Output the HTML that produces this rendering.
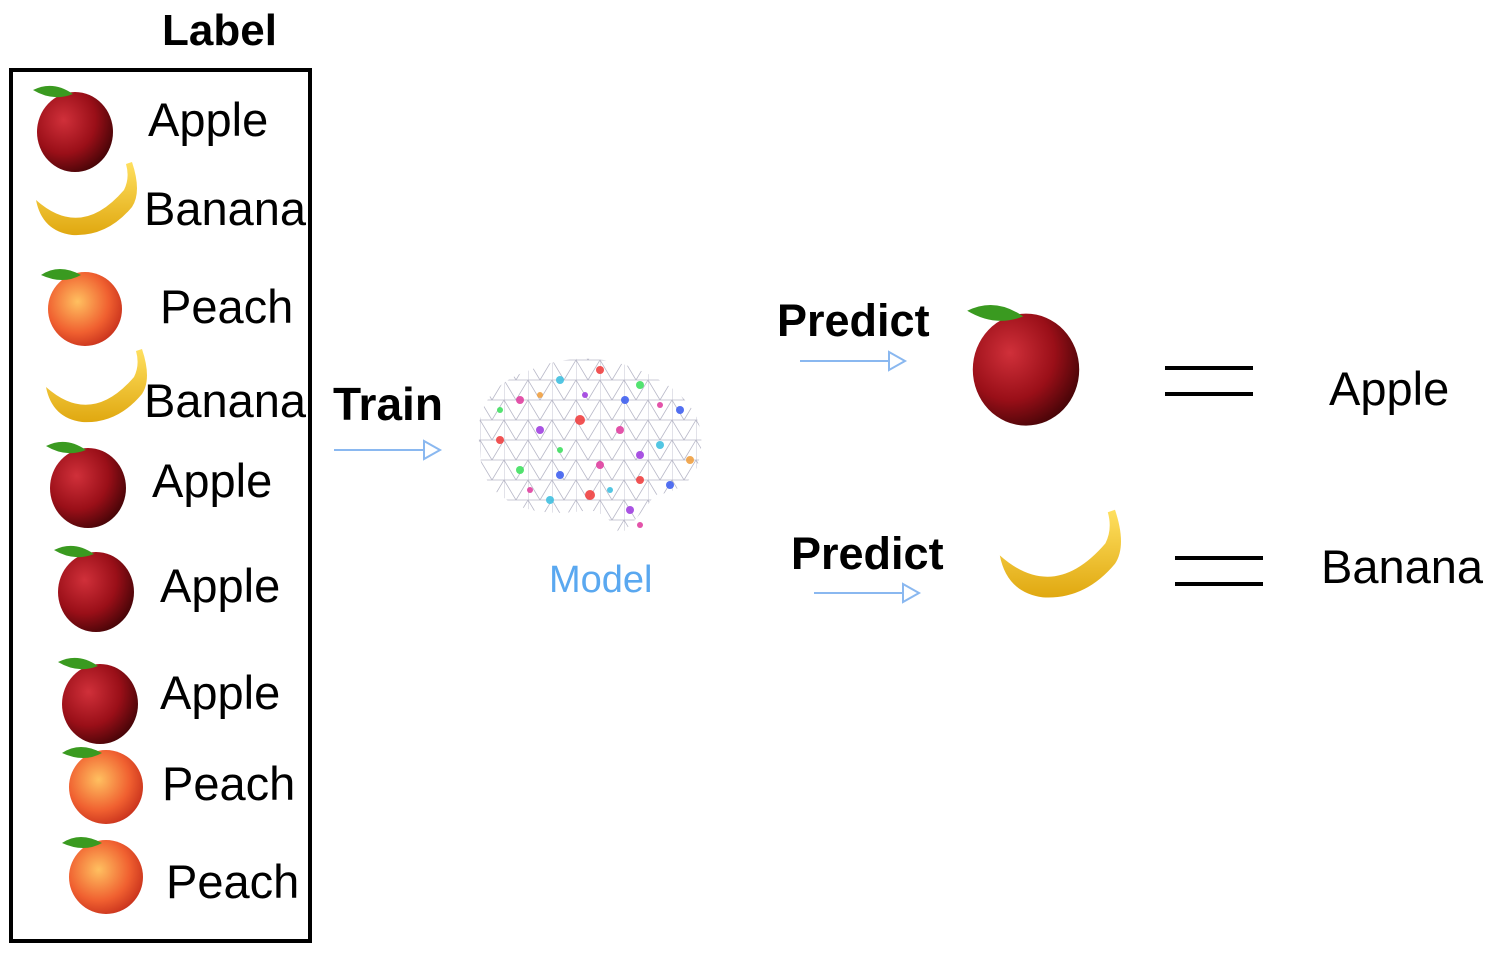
<!DOCTYPE html>
<html><head><meta charset="utf-8"><style>
html,body{margin:0;padding:0;background:#fff;}
body{width:1506px;height:956px;position:relative;overflow:hidden;font-family:"Liberation Sans",sans-serif;}
.t{position:absolute;font-size:47px;color:#000;white-space:nowrap;line-height:1;}
.b{font-weight:bold;}
svg{position:absolute;left:0;top:0;}
</style></head><body>
<svg width="1506" height="956" viewBox="0 0 1506 956">
<defs>
<radialGradient id="ap" cx="0.35" cy="0.35" r="0.7"><stop offset="0" stop-color="#d0303a"/><stop offset="0.6" stop-color="#9a0f18"/><stop offset="1" stop-color="#4a0508"/></radialGradient>
<radialGradient id="pe" cx="0.4" cy="0.4" r="0.7"><stop offset="0" stop-color="#ffc060"/><stop offset="0.6" stop-color="#f06030"/><stop offset="1" stop-color="#c02818"/></radialGradient>
<linearGradient id="ba" x1="0" y1="0" x2="0" y2="1"><stop offset="0" stop-color="#ffe060"/><stop offset="1" stop-color="#e0a810"/></linearGradient>
<g id="apple"><ellipse cx="0" cy="4" rx="38" ry="40" fill="url(#ap)"/><path d="M-2,-34 q-20,-14 -40,-4 q20,12 40,4z" fill="#3a9a20"/></g>
<g id="peach"><circle cx="0" cy="4" r="37" fill="url(#pe)"/><path d="M-4,-30 q-22,-12 -40,0 q22,10 40,0z" fill="#3a9a20"/></g>
<g id="banana"><path d="M-46,-8 q45,40 88,-10 q6,-12 2,-26 l6,-2 q10,30 0,45 q-25,30 -60,28 q-30,-4 -36,-35z" fill="url(#ba)"/></g>
<pattern id="mesh" width="24" height="20" patternUnits="userSpaceOnUse"><path d="M0,0 L24,0 L12,20 Z M0,20 L24,20 M0,0 L0,20" fill="none" stroke="#b8b8c8" stroke-width="0.8"/></pattern>
<clipPath id="bc"><path d="M480,450 q-10,-60 50,-80 q60,-25 120,5 q60,30 50,80 q-5,35 -45,40 q-15,20 -25,30 l-10,10 q-10,-20 -30,-25 q-60,10 -90,-15 q-20,-15 -20,-45z"/></clipPath>
</defs>
<rect x="11" y="70" width="299" height="871" fill="none" stroke="#000" stroke-width="4"/>
<use href="#apple" x="75" y="128"/>
<use href="#banana" x="82" y="208"/>
<use href="#peach" x="85" y="305"/>
<use href="#banana" x="92" y="395"/>
<use href="#apple" x="88" y="484"/>
<use href="#apple" x="96" y="588"/>
<use href="#apple" x="100" y="700"/>
<use href="#peach" x="106" y="783"/>
<use href="#peach" x="106" y="873"/>
<g transform="translate(1026 364) scale(1.4)"><use href="#apple"/></g>
<g transform="translate(1055 565) scale(1.2)"><use href="#banana"/></g>
<g stroke="#8ab8f0" stroke-width="2" fill="none">
<line x1="334" y1="450" x2="440" y2="450"/><path d="M424,441 l16,9 l-16,9z" fill="#fff"/>
<line x1="800" y1="361" x2="905" y2="361"/><path d="M889,352 l16,9 l-16,9z" fill="#fff"/>
<line x1="814" y1="593" x2="919" y2="593"/><path d="M903,584 l16,9 l-16,9z" fill="#fff"/>
</g>
<g stroke="#000" stroke-width="4">
<line x1="1165" y1="368" x2="1253" y2="368"/><line x1="1165" y1="394" x2="1253" y2="394"/>
<line x1="1175" y1="558" x2="1263" y2="558"/><line x1="1175" y1="584" x2="1263" y2="584"/>
</g>
<rect x="470" y="350" width="240" height="190" fill="url(#mesh)" clip-path="url(#bc)"/>
<g fill-opacity="0.9">
<circle cx="520" cy="400" r="4" fill="#e040a0"/><circle cx="560" cy="380" r="4" fill="#40c0e0"/><circle cx="600" cy="370" r="4" fill="#f04040"/>
<circle cx="640" cy="385" r="4" fill="#40e060"/><circle cx="680" cy="410" r="4" fill="#4060f0"/><circle cx="500" cy="440" r="4" fill="#f04040"/>
<circle cx="540" cy="430" r="4" fill="#a040e0"/><circle cx="580" cy="420" r="5" fill="#f04040"/><circle cx="620" cy="430" r="4" fill="#e040a0"/>
<circle cx="660" cy="445" r="4" fill="#40c0e0"/><circle cx="690" cy="460" r="4" fill="#f0a040"/><circle cx="520" cy="470" r="4" fill="#40e060"/>
<circle cx="560" cy="475" r="4" fill="#4060f0"/><circle cx="600" cy="465" r="4" fill="#e040a0"/><circle cx="640" cy="480" r="4" fill="#f04040"/>
<circle cx="590" cy="495" r="5" fill="#f04040"/><circle cx="630" cy="510" r="4" fill="#a040e0"/><circle cx="550" cy="500" r="4" fill="#40c0e0"/>
<circle cx="670" cy="485" r="4" fill="#4060f0"/><circle cx="640" cy="525" r="3" fill="#e040a0"/>
<circle cx="500" cy="410" r="3" fill="#40e060"/><circle cx="540" cy="395" r="3" fill="#f0a040"/><circle cx="625" cy="400" r="4" fill="#4060f0"/>
<circle cx="660" cy="405" r="3" fill="#e040a0"/><circle cx="560" cy="450" r="3" fill="#40e060"/><circle cx="640" cy="455" r="4" fill="#a040e0"/>
<circle cx="610" cy="490" r="3" fill="#40c0e0"/><circle cx="530" cy="490" r="3" fill="#e040a0"/><circle cx="585" cy="395" r="3" fill="#a040e0"/>
</g>
</svg>
<div class="t b" style="left:162px;top:9px;font-size:44px;">Label</div>
<div class="t" style="left:148px;top:96px;">Apple</div>
<div class="t" style="left:144px;top:185px;">Banana</div>
<div class="t" style="left:160px;top:283px;">Peach</div>
<div class="t" style="left:144px;top:377px;">Banana</div>
<div class="t" style="left:152px;top:457px;">Apple</div>
<div class="t" style="left:160px;top:562px;">Apple</div>
<div class="t" style="left:160px;top:669px;">Apple</div>
<div class="t" style="left:162px;top:760px;">Peach</div>
<div class="t" style="left:166px;top:858px;">Peach</div>
<div class="t b" style="left:333px;top:381px;font-size:46px;">Train</div>
<div class="t" style="left:549px;top:561px;font-size:38px;color:#5aa8f0;">Model</div>
<div class="t b" style="left:777px;top:298px;font-size:45px;">Predict</div>
<div class="t b" style="left:791px;top:531px;font-size:45px;">Predict</div>
<div class="t" style="left:1329px;top:365px;">Apple</div>
<div class="t" style="left:1321px;top:543px;">Banana</div>
</body></html>
